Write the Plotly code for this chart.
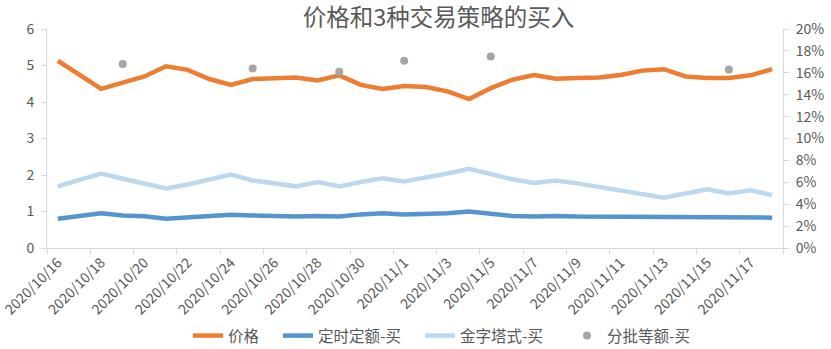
import pandas as pd
import plotly.graph_objects as go

# ---- data ----
dates = pd.date_range("2020-10-16", "2020-11-18", freq="D")

price = [5.13, 4.73, 4.36, 4.53, 4.70, 4.98, 4.88, 4.63, 4.47, 4.63,
         4.65, 4.67, 4.59, 4.73, 4.47, 4.36, 4.44, 4.41, 4.29, 4.08,
         4.38, 4.61, 4.74, 4.64, 4.66, 4.67, 4.74, 4.86, 4.90, 4.70,
         4.66, 4.66, 4.73, 4.90]

fixed_buy = [2.67, 2.90, 3.17, 2.97, 2.90, 2.67, 2.77, 2.93, 3.03, 2.97,
             2.87, 2.87, 2.93, 2.87, 3.07, 3.17, 3.07, 3.07, 3.17, 3.33,
             3.13, 2.93, 2.87, 2.93, 2.87, 2.87, 2.83, 2.77, 2.77, 2.83,
             2.83, 2.83, 2.83, 2.77]  # percent

pyramid_buy = [5.63, 6.23, 6.80, 6.33, 5.90, 5.43, 5.80, 6.30, 6.70, 6.17,
               5.93, 5.63, 6.03, 5.63, 6.03, 6.37, 6.07, 6.40, 6.80, 7.23,
               6.73, 6.27, 5.93, 6.17, 5.90, 5.60, 5.23, 4.90, 4.60, 4.97,
               5.37, 4.97, 5.27, 4.83]  # percent

batch_dates = ["2020-10-19", "2020-10-25", "2020-10-29", "2020-11-01",
               "2020-11-05", "2020-11-16"]
batch_buy = [16.8, 16.4, 16.1, 17.1, 17.5, 16.3]  # percent

label_dates = pd.date_range("2020-10-16", "2020-11-17", freq="2D")
tick_text = [f"{d.year}/{d.month}/{d.day}" for d in label_dates]

names = ["价格", "定时定额-买", "金字塔式-买", "分批等额-买"]
title_text = "价格和3种交易策略的买入"

# ---- figure ----
ORANGE = "#ED7D31"
BLUE = "#5694D0"
LBLUE = "#BDD7EE"
GREY = "#A5A5A5"
TXT = "#595959"
AX = "#D9D9D9"
FONT = "Noto Sans CJK SC"

L, R, T, B = 47, 48, 29, 101
W, H = 831, 349
PW = W - L - R
PH = H - T - B


def px2paper(px):
    return (px - L) / PW


fig = go.Figure()
fig.add_trace(go.Scatter(x=dates, y=price, name=names[0], mode="lines",
                         line=dict(color=ORANGE, width=4.5), yaxis="y",
                         legend="legend"))
fig.add_trace(go.Scatter(x=dates, y=[v / 100 for v in fixed_buy], name=names[1],
                         mode="lines", line=dict(color=BLUE, width=4.5), yaxis="y2",
                         legend="legend2"))
fig.add_trace(go.Scatter(x=dates, y=[v / 100 for v in pyramid_buy], name=names[2],
                         mode="lines", line=dict(color=LBLUE, width=4.5), yaxis="y2",
                         legend="legend3"))
fig.add_trace(go.Scatter(x=pd.to_datetime(batch_dates), y=[v / 100 for v in batch_buy],
                         name=names[3], mode="markers",
                         marker=dict(color=GREY, size=8), yaxis="y2",
                         legend="legend4"))

leg_y = (H - B - 336) / PH
leg_common = dict(orientation="h", xanchor="left", y=leg_y, yanchor="middle",
                  font=dict(size=15.5, color=TXT, family=FONT),
                  bgcolor="rgba(0,0,0,0)")

fig.update_layout(
    width=W, height=H,
    margin=dict(l=L, r=R, t=T, b=B, autoexpand=False),
    paper_bgcolor="white", plot_bgcolor="white",
    font=dict(family=FONT, color=TXT, size=14),
    title=dict(text=title_text, x=438.5 / W, xanchor="center",
               y=1 - 18 / H, yanchor="middle", yref="container",
               font=dict(size=23.5, color=TXT, family=FONT)),
    xaxis=dict(
        type="date", automargin=False,
        range=["2020-10-15 12:00", "2020-11-18 12:00"],
        tickvals=list(label_dates), ticktext=tick_text,
        tickangle=-45, ticks="", showgrid=False, zeroline=False,
        ticklabeloverflow="allow",
        showline=True, linecolor=AX, linewidth=1,
        tickfont=dict(size=14, color=TXT),
        minor=dict(ticks="outside", ticklen=5, tickcolor=AX,
                   tick0="2020-10-15 12:00", dtick=2 * 86400000, showgrid=False),
    ),
    yaxis=dict(range=[0, 6], dtick=1, showgrid=False, zeroline=False,
               automargin=False, ticklabelstandoff=4,
               showline=True, linecolor=AX, ticks="outside", ticklen=5,
               tickcolor=AX, tickfont=dict(size=14, color=TXT)),
    yaxis2=dict(range=[0, 0.2], dtick=0.02, tickformat=".0%", overlaying="y",
                side="right", showgrid=False, zeroline=False, showline=True,
                automargin=False, ticklabelstandoff=4,
                linecolor=AX, ticks="outside", ticklen=5, tickcolor=AX,
                tickfont=dict(size=14, color=TXT)),
    legend=dict(x=px2paper(188), **leg_common),
    legend2=dict(x=px2paper(278), **leg_common),
    legend3=dict(x=px2paper(420), **leg_common),
    legend4=dict(x=px2paper(567), **leg_common),
    showlegend=True,
)

fig.write_html("out.html")
